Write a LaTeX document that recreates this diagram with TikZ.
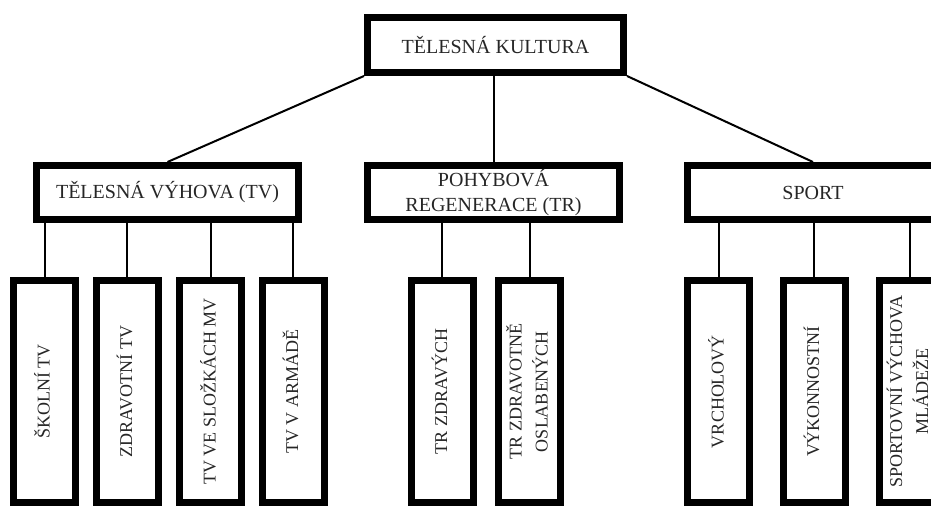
\documentclass[tikz,border=0pt]{standalone}
\usepackage{fontspec}
\setmainfont{Liberation Serif}
\usetikzlibrary{positioning,calc}
\newcommand{\vtext}[1]{\rotatebox{90}{\begin{tabular}{@{}c@{}}#1\end{tabular}}}

\begin{document}
\begin{tikzpicture}[
    x = 0.5pt, y = -0.5pt,
    hb/.style = { draw, line width=3.5pt, inner sep=0pt, minimum height=27pt,
                  align=center, text=black!85, font=\fontsize{10}{12.5}\selectfont },
    cb/.style = { draw, line width=3.5pt, inner sep=0pt, minimum width=31pt,
                  minimum height=111pt, text=black!85, font=\fontsize{9}{13}\selectfont },
    connect line/.style = { line width=1pt }
]
\useasboundingbox (0,0) rectangle (931,507);
\clip (0,0) rectangle (931,507);

\node[hb, minimum width=128pt, minimum height=27.5pt] (kultura) at (495.5,45) {TĚLESNÁ KULTURA};
\node[hb, minimum width=131pt]   (tv)    at (167.5,192.5) {TĚLESNÁ VÝHOVA (TV)};
\node[hb, minimum width=126pt]   (tr)    at (493.5,193)   {POHYBOVÁ\\REGENERACE (TR)};
\node[hb, minimum width=125.5pt] (sport) at (813,192.5)   {SPORT};

\draw[connect line] (kultura.south west) -- (tv.north);
\draw[connect line] (tr.north) -- (tr.north |- kultura.south);
\draw[connect line] (kultura.south east) -- (sport.north);

% telesna vychova
\foreach[count=\n] \x/\t in {44.5/ŠKOLNÍ TV, 127/ZDRAVOTNÍ TV,
      210.5/TV VE SLOŽKÁCH MV, 293/TV V ARMÁDĚ}
{ \node[cb] (tv-\n) at (\x,391.5) {\vtext{\t}};
  \draw[connect line] (tv-\n.north) -- (tv-\n.north |- tv.south); }

% pohybova regenerace
\foreach[count=\n] \x/\t in {442/TR ZDRAVÝCH, 529.5/TR ZDRAVOTNĚ\\OSLABENÝCH}
{ \node[cb] (tr-\n) at (\x,391.5) {\vtext{\t}};
  \draw[connect line] (tr-\n.north) -- (tr-\n.north |- tr.south); }

% sport
\foreach[count=\n] \x/\t in {718.5/VRCHOLOVÝ, 814/VÝKONNOSTNÍ,
      910/SPORTOVNÍ VÝCHOVA\\MLÁDEŽE}
{ \node[cb] (sport-\n) at (\x,391.5) {\vtext{\t}};
  \draw[connect line] (sport-\n.north) -- (sport-\n.north |- sport.south); }

\end{tikzpicture}
\end{document}
